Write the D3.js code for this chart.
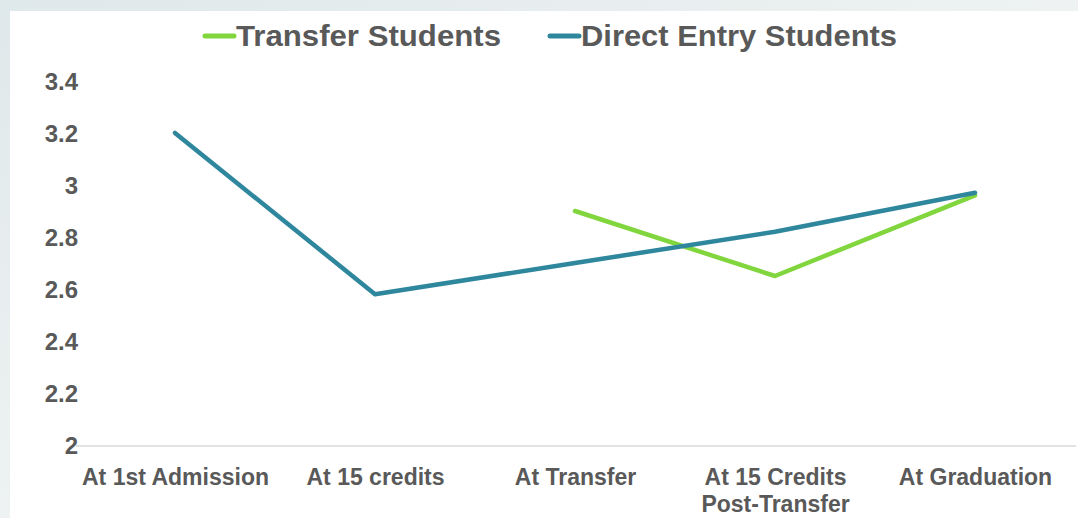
<!DOCTYPE html>
<html>
<head>
<meta charset="utf-8">
<script src="https://cdn.jsdelivr.net/npm/d3@7"></script>
<style>
  html, body { margin: 0; padding: 0; }
  body { width: 1078px; height: 518px; overflow: hidden; }
  text { font-family: "Liberation Sans", Arial, sans-serif; font-weight: bold; fill: #595959; }
</style>
</head>
<body>
<svg id="chart" width="1078" height="518"></svg>
<script>
const categories = ["At 1st Admission", "At 15 credits", "At Transfer", "At 15 Credits|Post-Transfer", "At Graduation"];
const transferValues = [null, null, 2.90, 2.65, 2.96];
const directValues = [3.20, 2.58, 2.70, 2.82, 2.97];
const yTicks = [2, 2.2, 2.4, 2.6, 2.8, 3, 3.2, 3.4];
const seriesNames = ["Transfer Students", "Direct Entry Students"];
const colors = ["#80d63c", "#2f879d"];

const svg = d3.select("#chart");

// background
const defs = svg.append("defs");
const g = defs.append("linearGradient").attr("id", "bg").attr("x1", 0).attr("y1", 0).attr("x2", 1).attr("y2", 1);
g.append("stop").attr("offset", "0%").attr("stop-color", "#dfe8ea");
g.append("stop").attr("offset", "50%").attr("stop-color", "#eef2f2");
g.append("stop").attr("offset", "100%").attr("stop-color", "#e6eeef");
svg.append("rect").attr("width", 1078).attr("height", 518).attr("fill", "url(#bg)");
svg.append("rect").attr("x", 10).attr("y", 11).attr("width", 1068).attr("height", 507).attr("fill", "#ffffff");

const x = d3.scalePoint().domain(categories).range([75, 1075]).padding(0.5);
const y = d3.scaleLinear().domain([2, 3.4]).range([445, 81]);

// y axis labels
const yAxis = d3.axisLeft(y).tickValues(yTicks).tickSize(0).tickPadding(0).tickFormat(d3.format("~g"));
const ya = svg.append("g").attr("transform", "translate(78,0)").call(yAxis);
ya.select(".domain").remove();
ya.selectAll("text").style("font-size", "24px").attr("dy", "0.36em")
  .style("font-family", "'Liberation Sans', Arial, sans-serif").style("font-weight", "bold").attr("fill", "#595959");

// x axis
const xAxis = d3.axisBottom(x).tickSize(0).tickPadding(0).tickFormat(() => "");
const xa = svg.append("g").attr("transform", "translate(0,446)").call(xAxis);
xa.select(".domain").attr("d", "M76,0H1076").attr("stroke", "#d9d9d9").attr("stroke-width", 1.5);
xa.selectAll(".tick").each(function(d) {
  const lines = d.split("|");
  const t = d3.select(this).append("text").attr("text-anchor", "middle")
    .style("font-size", "23px").attr("fill", "#595959");
  lines.forEach((ln, i) => {
    t.append("tspan").attr("x", 0).attr("y", 39 + i * 27).text(ln);
  });
});

// lines
const line = d3.line()
  .defined(d => d.v !== null)
  .x(d => x(d.c))
  .y(d => y(d.v));

const series = [transferValues, directValues];
series.forEach((vals, i) => {
  const data = categories.map((c, j) => ({ c, v: vals[j] }));
  svg.append("path").datum(data).attr("d", line)
    .attr("fill", "none").attr("stroke", colors[i]).attr("stroke-width", 4.5)
    .attr("stroke-linejoin", "round").attr("stroke-linecap", "round");
});

// legend
const legendItems = [
  { name: seriesNames[0], color: colors[0], x: 205, w: 265 },
  { name: seriesNames[1], color: colors[1], x: 550, w: 316 }
];
legendItems.forEach(it => {
  svg.append("line").attr("x1", it.x).attr("x2", it.x + 29).attr("y1", 36).attr("y2", 36)
    .attr("stroke", it.color).attr("stroke-width", 5).attr("stroke-linecap", "round");
  svg.append("text").attr("x", it.x + 31).attr("y", 46).style("font-size", "29px")
    .attr("textLength", it.w).attr("lengthAdjust", "spacingAndGlyphs").text(it.name);
});
</script>
</body>
</html>
